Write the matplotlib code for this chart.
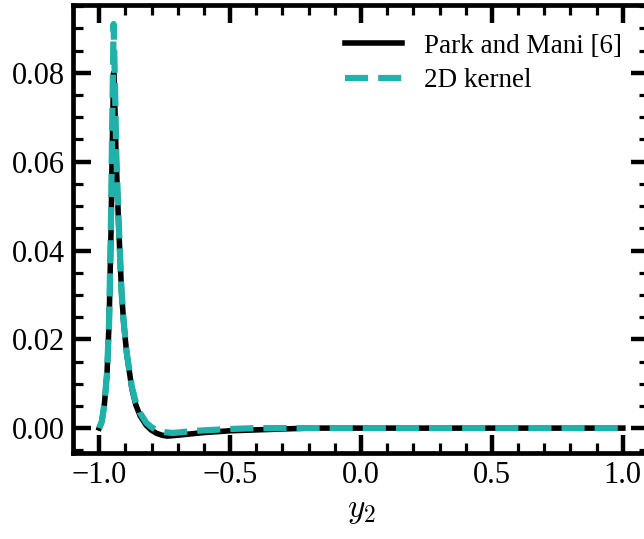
import numpy as np
import matplotlib
matplotlib.use("Agg")
import matplotlib.pyplot as plt
from matplotlib.ticker import MultipleLocator, FuncFormatter

plt.rcParams['font.family'] = ['Liberation Serif', 'DejaVu Serif']
plt.rcParams['mathtext.fontset'] = 'cm'

# Park and Mani reference profile
y2_ref = [-1.0, -0.99, -0.98, -0.97, -0.962, -0.955, -0.95, -0.945, -0.94,
          -0.935, -0.926, -0.915, -0.907, -0.895, -0.875, -0.86, -0.844,
          -0.82, -0.80, -0.78, -0.76, -0.74, -0.70, -0.65, -0.60, -0.50,
          -0.40, -0.30, -0.20, 0.0, 0.5, 1.0]
f_ref = [0.0, 0.0015, 0.0055, 0.0125, 0.0243, 0.0440, 0.0640, 0.0800, 0.0720,
         0.0600, 0.0460, 0.0310, 0.0240, 0.0168, 0.0088, 0.0052, 0.0028,
         0.0006, -0.0005, -0.0012, -0.0016, -0.0018, -0.0016, -0.0013,
         -0.0010, -0.0006, -0.0004, -0.0002, 0.0, 0.0, 0.0, 0.0]

# 2D kernel result
y2_ker = [-1.0, -0.99, -0.98, -0.97, -0.962, -0.955, -0.95, -0.945, -0.94,
          -0.935, -0.926, -0.915, -0.907, -0.895, -0.875, -0.86, -0.844,
          -0.82, -0.80, -0.78, -0.75, -0.72, -0.70, -0.65, -0.60, -0.50,
          -0.40, -0.30, -0.20, 0.0, 0.5, 1.0]
f_ker = [0.0, 0.0015, 0.0055, 0.0125, 0.0243, 0.0469, 0.0700, 0.0910, 0.0780,
         0.0620, 0.0469, 0.0310, 0.0243, 0.0170, 0.0092, 0.0058, 0.0034,
         0.0012, 0.0002, -0.0005, -0.0009, -0.0011, -0.0010, -0.0007,
         -0.0005, -0.0002, 0.0, 0.0, 0.0, 0.0, 0.0, 0.0]


def fmt(decimals):
    # proper minus sign instead of a hyphen
    return FuncFormatter(lambda v, pos: f'{v:.{decimals}f}'.replace('-', '\u2212'))


fig = plt.figure(figsize=(6.44, 5.39), dpi=100)
ax = fig.add_axes([0.1134, 0.1596, 0.8944, 0.8312])

ax.plot(y2_ref, f_ref, color='black', lw=4, label='Park and Mani [6]', zorder=2)
ax.plot(y2_ker, f_ker, color='lightseagreen', lw=4.5, ls='--', label='2D kernel', zorder=3)

ax.set_xlim(-1.1, 1.1)
ax.set_ylim(-0.0056, 0.0953)
ax.xaxis.set_major_locator(MultipleLocator(0.5))
ax.xaxis.set_minor_locator(MultipleLocator(0.1))
ax.yaxis.set_major_locator(MultipleLocator(0.02))
ax.yaxis.set_minor_locator(MultipleLocator(0.005))
ax.xaxis.set_major_formatter(fmt(1))
ax.yaxis.set_major_formatter(fmt(2))

for s in ax.spines.values():
    s.set_linewidth(3.4)
ax.tick_params(which='both', direction='in', top=True, right=True, labelsize=22)
ax.tick_params(which='major', length=13, width=3.2, pad=6)
ax.tick_params(which='minor', length=7, width=2.3)

ax.set_xlabel('$y_2$', fontsize=24, labelpad=4)

ax.legend(loc='upper right', bbox_to_anchor=(0.995, 0.99), frameon=False,
          fontsize=19.5, handlelength=2.1, handletextpad=0.8, labelspacing=0.35)

fig.savefig('out.png', dpi=100)
